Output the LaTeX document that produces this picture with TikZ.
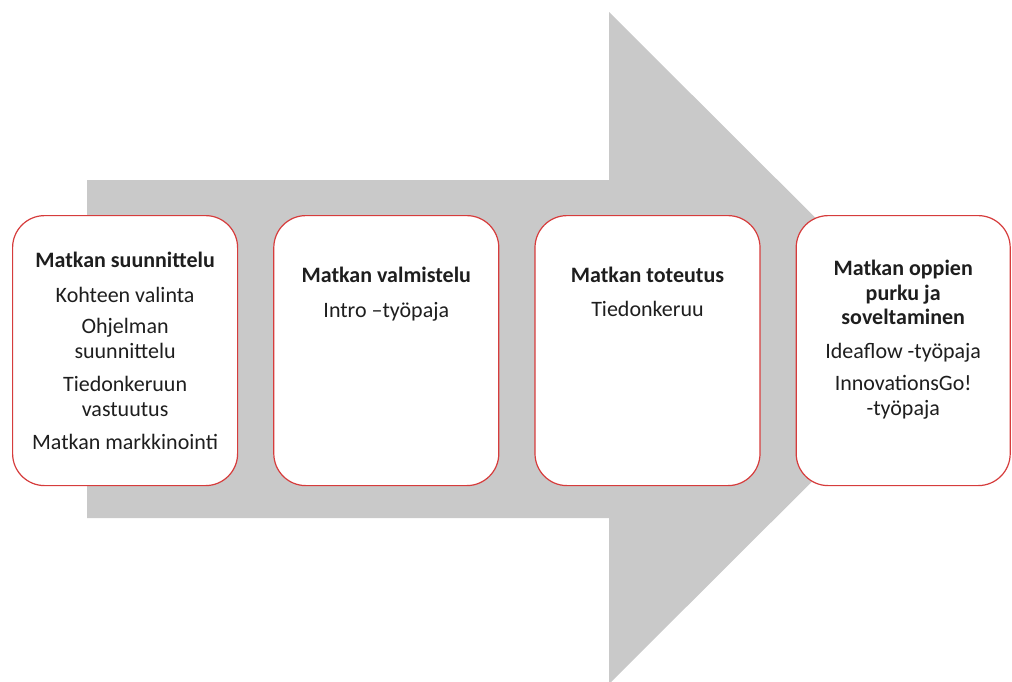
\documentclass[tikz,border=0pt]{standalone}
\usepackage{fontspec}
\setmainfont{Carlito}
\usetikzlibrary{positioning}
\definecolor{arrowgray}{RGB}{201,201,201}
\definecolor{boxred}{RGB}{214,60,60}
\definecolor{textgray}{RGB}{30,30,30}

\begin{document}
\begin{tikzpicture}[x=1pt,y=-1pt,
    phase/.style={draw=boxred, line width=1.2pt, fill=white, rounded corners=32pt,
        minimum width=225pt, minimum height=270pt, inner sep=0pt},
    phasetext/.style={anchor=north, align=center, inner sep=0pt, text=textgray,
        font=\fontsize{22}{24.5}\selectfont}]
    % keep page size
    \useasboundingbox (0,0) rectangle (1012,681);
    \clip (0,0) rectangle (1012,681);

    % draw big arrow
    \fill[arrowgray] (87,180) -- (609,180) -- (609,12) -- (946,348) -- (609,684)
        -- (609,518) -- (87,518) -- cycle;

    % draw boxes
    \node[phase, anchor=north west] (suunnittelu) at (12,215) {};
    \node[phase, right=35pt of suunnittelu] (valmistelu) {};
    \node[phase, right=35pt of valmistelu] (toteutus) {};
    \node[phase, right=35pt of toteutus, minimum width=214pt] (purku) {};

    % draw texts
    \node[phasetext, below=37pt of suunnittelu.north] (suunnittelutext)
        {\textbf{Matkan suunnittelu}\\[10pt] Kohteen valinta\\[7pt] Ohjelman\\suunnittelu\\[9pt]
         Tiedonkeruun\\vastuutus\\[9pt] Matkan markkinointi};
    \node[phasetext, below=52pt of valmistelu.north] (valmistelutext)
        {\textbf{Matkan valmistelu}\\[10pt] Intro –työpaja};
    \node[phasetext, below=52pt of toteutus.north] (toteutustext)
        {\textbf{Matkan toteutus}\\[9pt] Tiedonkeruu};
    \node[phasetext, below=45pt of purku.north] (purkutext)
        {\textbf{Matkan oppien}\\\textbf{purku ja}\\\textbf{soveltaminen}\\[9pt]
         Ideaflow -työpaja\\[8pt] InnovationsGo!\\-työpaja};
\end{tikzpicture}
\end{document}
